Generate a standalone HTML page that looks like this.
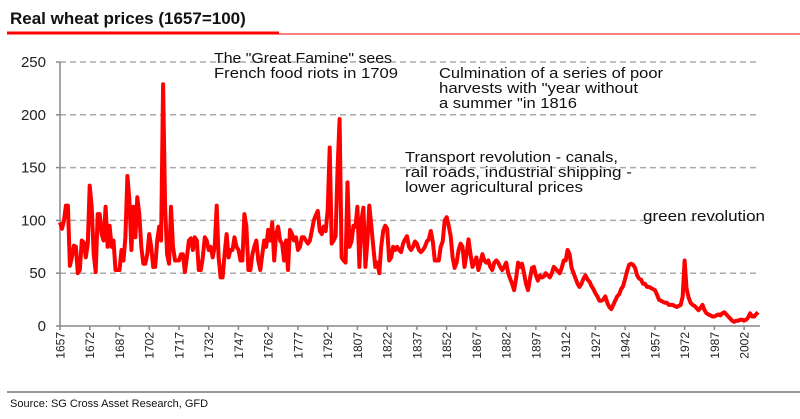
<!DOCTYPE html>
<html><head><meta charset="utf-8"><style>
body{margin:0;background:#fff;}
svg{display:block;font-family:"Liberation Sans",sans-serif;}
</style></head><body>
<svg id="chart" width="800" height="419" viewBox="0 0 800 419">
<text x="10" y="24" font-size="17" font-weight="bold" fill="#111">Real wheat prices (1657=100)</text>
<line x1="7" y1="33" x2="279" y2="33" stroke="#f00" stroke-width="3"/>
<line x1="279" y1="34" x2="800" y2="34" stroke="#f00" stroke-width="1"/>
<g id="grid"></g>
<g id="yaxis"></g>
<g id="xaxis"></g>
<g id="series"></g>
<g font-size="14.5" fill="#111">
<text x="214" y="63" textLength="178" lengthAdjust="spacingAndGlyphs">The "Great Famine" sees</text>
<text x="214" y="78" textLength="184" lengthAdjust="spacingAndGlyphs">French food riots in 1709</text>
<text x="439" y="78" textLength="224" lengthAdjust="spacingAndGlyphs">Culmination of a series of poor</text>
<text x="439" y="93" textLength="199" lengthAdjust="spacingAndGlyphs">harvests with "year without</text>
<text x="439" y="108" textLength="138" lengthAdjust="spacingAndGlyphs">a summer "in 1816</text>
<text x="405" y="162" textLength="213" lengthAdjust="spacingAndGlyphs">Transport revolution - canals,</text>
<text x="405" y="177" textLength="227" lengthAdjust="spacingAndGlyphs">rail roads, industrial shipping -</text>
<text x="405" y="192" textLength="178" lengthAdjust="spacingAndGlyphs">lower agricultural prices</text>
<text x="643" y="221" textLength="122" lengthAdjust="spacingAndGlyphs">green revolution</text>
</g>
<line x1="7" y1="392" x2="800" y2="392" stroke="#777" stroke-width="1.5"/>
<text x="10" y="407" font-size="11" fill="#111">Source: SG Cross Asset Research, GFD</text>
</svg>
<script>
const startYear = 1657;
const prices = [
98,92,100,114,114,57,65,76,75,50,53,81,79,65,78,133,113,68,51,106,106,87,81,113,75,95,75,81,53,53,
53,72,62,84,142,119,72,113,84,122,106,75,59,59,68,87,75,56,56,81,94,81,229,113,68,59,113,75,62,62,
62,68,68,51,65,81,83,72,84,81,53,53,65,84,81,72,75,65,75,114,65,46,46,68,87,65,72,72,84,75,
72,62,62,106,94,53,53,68,75,81,62,53,68,81,75,91,81,98,62,87,94,81,78,62,81,53,91,87,81,84,
72,75,84,84,81,78,81,90,100,105,109,90,87,94,90,110,169,78,81,85,150,196,65,62,60,136,75,80,95,94,
113,56,100,112,56,80,114,95,75,56,60,50,75,90,95,92,62,65,75,72,75,72,70,78,82,85,75,72,75,80,
78,72,70,72,75,80,82,90,80,62,62,62,75,80,100,103,95,85,65,55,60,72,78,75,56,68,82,68,56,60,
65,53,60,68,62,60,62,56,53,60,62,60,56,53,56,60,50,45,40,34,45,60,56,59,50,40,34,45,55,56,
48,43,48,46,47,50,48,46,50,56,54,52,50,55,62,62,72,68,55,50,45,40,37,40,45,48,44,42,38,35,
31,28,24,24,25,28,22,18,16,20,24,28,30,35,38,45,52,58,59,58,55,48,45,44,40,40,37,37,36,35,
34,30,25,24,23,22,22,20,20,20,19,18,19,20,28,62,35,27,22,20,19,17,15,17,20,15,12,11,10,9,
9,10,11,10,12,13,11,9,7,5,4,5,5,6,6,5,6,8,12,9,9,11,13
];
const yTicks = [0,50,100,150,200,250];
const xTickYears = [1657,1672,1687,1702,1717,1732,1747,1762,1777,1792,1807,1822,1837,1852,1867,1882,1897,1912,1927,1942,1957,1972,1987,2002];

const NS = "http://www.w3.org/2000/svg";
const X0 = 60, XPY = 1.983, Y0 = 326, YPU = 1.056, XEND = 760;
function xs(year){ return X0 + (year - startYear) * XPY; }
function ys(v){ return Y0 - v * YPU; }
function mk(tag, attrs, parent){ const e = document.createElementNS(NS, tag); for (const k in attrs) e.setAttribute(k, attrs[k]); parent.appendChild(e); return e; }

const grid = document.getElementById('grid');
const yaxis = document.getElementById('yaxis');
const xaxis = document.getElementById('xaxis');
const series = document.getElementById('series');

yTicks.forEach(t => {
  if (t > 0) {
    const g = mk('line', {x1: X0, x2: XEND, y1: ys(t), y2: ys(t), stroke: '#aaa', 'stroke-width': 1.5, 'stroke-dasharray': '6,4'}, grid);
    
    
  }
  const tk = mk('line', {x1: X0 - 4, x2: X0, y1: ys(t), y2: ys(t), stroke: '#888', 'stroke-width': 1.5}, yaxis);
  
  
  const lb = mk('text', {x: 46, y: ys(t) + 5, 'text-anchor': 'end', 'font-size': 15, fill: '#222'}, yaxis);
  lb.textContent = t;
  
  
});
const ya = mk('line', {x1: X0, x2: X0, y1: ys(250), y2: Y0, stroke: '#888', 'stroke-width': 1.5}, yaxis);


const xa = mk('line', {x1: X0, x2: XEND, y1: Y0, y2: Y0, stroke: '#888', 'stroke-width': 1.5}, xaxis);



xTickYears.forEach(yr => {
  const x = xs(yr);
  const tk = mk('line', {x1: x, x2: x, y1: Y0, y2: Y0 + 4, stroke: '#888', 'stroke-width': 1.5}, xaxis);
  
  
  const lb = mk('text', {x: 0, y: 0, 'text-anchor': 'end', 'font-size': 12, fill: '#222', transform: 'translate(' + (x + 4.5) + ',' + (Y0 + 6) + ') rotate(-90)'}, xaxis);
  lb.textContent = yr;
  
  
});

const pts = prices.map((v, i) => xs(startYear + i).toFixed(1) + ',' + ys(v).toFixed(1)).join(' ');
const line = mk('polyline', {points: pts, fill: 'none', stroke: '#f00', 'stroke-width': 4, 'stroke-linejoin': 'round'}, series);


</script>
</body></html>
